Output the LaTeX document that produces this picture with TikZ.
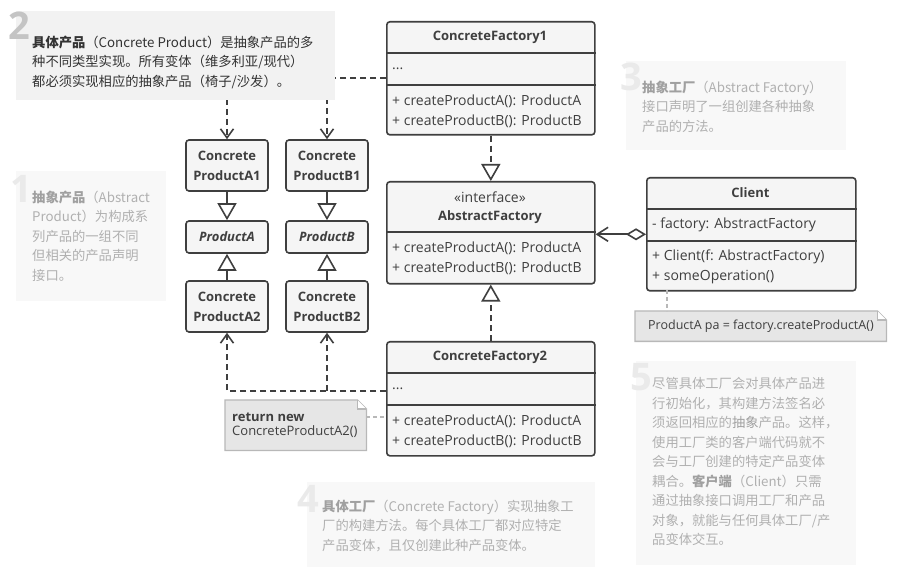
\documentclass[tikz,border=0pt]{standalone}
\usepackage{fontspec}
\setmainfont{Open Sans}
\newfontfamily\cjk{Noto Sans CJK SC}
\usetikzlibrary{positioning,calc,arrows.meta}

\definecolor{ink}{HTML}{3F3F3F}
\definecolor{boxfill}{HTML}{F5F5F5}
\definecolor{notefill}{HTML}{E6E6E6}
\definecolor{noteline}{HTML}{B8B8B8}
\definecolor{tipfill}{HTML}{F2F2F2}
\definecolor{tipnum}{HTML}{C4C4C4}
\definecolor{tiptext}{HTML}{333333}
\definecolor{fadefill}{HTML}{F8F8F8}
\definecolor{fadenum}{HTML}{EAEAEA}
\definecolor{fadetext}{HTML}{B0B0B0}
\definecolor{fadebold}{HTML}{A0A0A0}

\newcommand{\boxfont}{\fontsize{13}{20}\selectfont}
\newcommand{\memberfont}{\fontsize{14}{20}\selectfont}
\newcommand{\tipfont}{\cjk\fontsize{13.3}{19.5}\selectfont}

\begin{document}
\begin{tikzpicture}[x=1pt,y=-1pt,
    class box/.style={draw=ink,fill=boxfill,line width=1.6pt,rounded corners=3pt,
                      anchor=north west,minimum width=208pt,inner sep=0pt},
    prod box/.style={draw=ink,fill=boxfill,line width=1.6pt,rounded corners=3pt,
                     minimum width=82pt,minimum height=51pt,inner sep=0pt,
                     align=center,text=ink,font=\boxfont\bfseries},
    class title/.style={text=ink,font=\boxfont\bfseries,inner sep=0pt},
    member/.style={text=ink,font=\memberfont,anchor=west,align=left,inner sep=0pt},
    divider/.style={draw=ink,line width=1.6pt},
    wire/.style={draw=ink,line width=1.6pt},
    inherit line/.style={wire,-{Triangle[open,length=17pt,width=19pt,line width=1.6pt]}},
    realize line/.style={inherit line,dash pattern=on 6pt off 4pt},
    depend line/.style={wire,dash pattern=on 6pt off 4pt,
                        -{Straight Barb[length=9pt,width=13pt,line width=1.6pt]}},
    aggr line/.style={wire,{Diamond[open,length=20pt,width=12pt,line width=1.6pt]}-{Straight Barb[length=11pt,width=14pt,line width=1.6pt]}},
    note box/.style={anchor=north west,inner sep=0pt},
    note edge/.style={draw=noteline,line width=1.3pt},
    note link/.style={draw=noteline,line width=1.3pt,dash pattern=on 4pt off 3pt},
    tip box/.style={fill=tipfill,anchor=north west,inner sep=0pt},
    fade box/.style={fill=fadefill,anchor=north west,inner sep=0pt},
    tip num/.style={text=tipnum,font=\fontsize{38}{38}\selectfont\bfseries,
                    anchor=north west,inner sep=0pt},
    fade num/.style={tip num,text=fadenum},
    tip text/.style={text=tiptext,font=\tipfont,anchor=north west,align=left,inner sep=0pt},
    fade text/.style={tip text,text=fadetext}
  ]
  \useasboundingbox (0,0) rectangle (897,569);
  \fill[white] (0,0) rectangle (897,569);

  % factories
  \node[class box, minimum height=113pt] (cf1) at (386,21) {};
  \node[class title] (cf1name) at (490,37) {ConcreteFactory1};
  \draw[divider] ([yshift=-32pt]cf1.north west) -- ([yshift=-32pt]cf1.north east);
  \node[member] (cf1attr) at (392,69) {...};
  \draw[divider] ([yshift=-64pt]cf1.north west) -- ([yshift=-64pt]cf1.north east);
  \node[member] (cf1ops) at (392,111) {+ createProductA(): ProductA\\+ createProductB(): ProductB};

  \node[class box, minimum height=102pt] (af) at (386,181) {};
  \node[class title, font=\memberfont] (afstereo) at (490,197) {«interface»};
  \node[class title] (afname) at (490,217) {AbstractFactory};
  \draw[divider] ([yshift=-51pt]af.north west) -- ([yshift=-51pt]af.north east);
  \node[member] (afops) at (392,258) {+ createProductA(): ProductA\\+ createProductB(): ProductB};

  \node[class box, minimum height=114pt] (cf2) at (386,341) {};
  \node[class title] (cf2name) at (490,357) {ConcreteFactory2};
  \draw[divider] ([yshift=-32pt]cf2.north west) -- ([yshift=-32pt]cf2.north east);
  \node[member] (cf2attr) at (392,389) {...};
  \draw[divider] ([yshift=-64pt]cf2.north west) -- ([yshift=-64pt]cf2.north east);
  \node[member] (cf2ops) at (392,431) {+ createProductA(): ProductA\\+ createProductB(): ProductB};

  % client
  \node[class box, minimum width=209pt, minimum height=113pt] (client) at (646,177) {};
  \node[class title] (clientname) at (750.5,193) {Client};
  \draw[divider] ([yshift=-32pt]client.north west) -- ([yshift=-32pt]client.north east);
  \node[member] (clientattr) at (652,225) {- factory: AbstractFactory};
  \draw[divider] ([yshift=-64pt]client.north west) -- ([yshift=-64pt]client.north east);
  \node[member] (clientops) at (652,266.5) {+ Client(f: AbstractFactory)\\+ someOperation()};

  % products
  \node[prod box] (a1) at (227,165.5) {Concrete\\ProductA1};
  \node[prod box] (b1) at (327,165.5) {Concrete\\ProductB1};
  \node[prod box, minimum height=32pt, font=\boxfont\bfseries\itshape] (pa) at (227,237) {ProductA};
  \node[prod box, minimum height=32pt, font=\boxfont\bfseries\itshape] (pb) at (327,237) {ProductB};
  \node[prod box] (a2) at (227,306.5) {Concrete\\ProductA2};
  \node[prod box] (b2) at (327,306.5) {Concrete\\ProductB2};

  % relations
  \draw[inherit line] (a1) -- (pa);
  \draw[inherit line] (b1) -- (pb);
  \draw[inherit line] (a2) -- (pa);
  \draw[inherit line] (b2) -- (pb);
  \draw[realize line] (cf1) -- (af);
  \draw[realize line] (cf2) -- (af);
  \draw[aggr line] (client.west) -- (client.west -| af.east);

  \coordinate (cf1port) at (386,78);
  \coordinate (cf2port) at (386,391);
  \draw[depend line] (cf1port) -| (a1);
  \draw[depend line] (cf1port -| b1) -- (b1);
  \draw[depend line] (cf2port) -| (a2);
  \draw[depend line] (cf2port -| b2) -- (b2);

  % notes
  \node[note box, minimum width=251pt, minimum height=30pt] (callnote) at (635,311) {};
  \filldraw[note edge, fill=notefill] (callnote.north west) -- ([xshift=-9pt]callnote.north east)
    -- ([yshift=-9pt]callnote.north east) -- (callnote.south east) -- (callnote.south west) -- cycle;
  \draw[note edge, fill=white] ([xshift=-9pt]callnote.north east) -- ([xshift=-9pt,yshift=-9pt]callnote.north east)
    -- ([yshift=-9pt]callnote.north east);
  \node[member, font=\fontsize{12.5}{14}\selectfont] (calltext) at (648,326) {ProductA pa = factory.createProductA()};
  \coordinate (clientport) at (667,290);
  \draw[note link] (clientport) -- (clientport |- callnote.north);

  \node[note box, minimum width=141pt, minimum height=50pt] (retnote) at (225,400) {};
  \filldraw[note edge, fill=notefill] (retnote.north west) -- ([xshift=-9pt]retnote.north east)
    -- ([yshift=-9pt]retnote.north east) -- (retnote.south east) -- (retnote.south west) -- cycle;
  \draw[note edge, fill=white] ([xshift=-9pt]retnote.north east) -- ([xshift=-9pt,yshift=-9pt]retnote.north east)
    -- ([yshift=-9pt]retnote.north east);
  \node[member, font=\fontsize{13}{14}\selectfont] (rettext) at (232,425.5) {\textbf{return new}\\ConcreteProductA2()};
  \coordinate (cf2noteport) at (386,417);
  \draw[note link] (retnote.east |- cf2noteport) -- (cf2noteport);

  % annotations
  \node[tip box, minimum width=319pt, minimum height=89pt] (tip2) at (16,11) {};
  \node[tip num] (num2) at (8,12) {2};
  \node[tip text] (txt2) at (32,35.5) {\textbf{具体产品}（Concrete Product）是抽象产品的多\\
    种不同类型实现。所有变体（维多利亚/现代）\\都必须实现相应的抽象产品（椅子/沙发）。};

  \node[fade box, minimum width=150pt, minimum height=130pt] (tip1) at (16,171) {};
  \node[fade num] (num1) at (10,175) {1};
  \node[fade text] (txt1) at (32,190.5) {\textcolor{fadebold}{\textbf{抽象产品}}（Abstract\\
    Product）为构成系\\列产品的一组不同\\但相关的产品声明\\接口。};

  \node[fade box, minimum width=220pt, minimum height=89pt] (tip3) at (626,61) {};
  \node[fade num] (num3) at (620,63) {3};
  \node[fade text] (txt3) at (642,80.5) {\textcolor{fadebold}{\textbf{抽象工厂}}（Abstract Factory）\\
    接口声明了一组创建各种抽象\\产品的方法。};

  \node[fade box, minimum width=288pt, minimum height=85pt] (tip4) at (307,482) {};
  \node[fade num] (num4) at (297,485) {4};
  \node[fade text] (txt4) at (322,499.5) {\textcolor{fadebold}{\textbf{具体工厂}}（Concrete Factory）实现抽象工\\
    厂的构建方法。每个具体工厂都对应特定\\产品变体，且仅创建此种产品变体。};

  \node[fade box, minimum width=220pt, minimum height=204pt] (tip5) at (636,361) {};
  \node[fade num] (num5) at (630,363) {5};
  \node[fade text] (txt5) at (652,377.5) {尽管具体工厂会对具体产品进\\行初始化，其构建方法签名必\\
    须返回相应的\textcolor{fadebold}{抽象}产品。这样，\\使用工厂类的客户端代码就不\\
    会与工厂创建的特定产品变体\\耦合。\textcolor{fadebold}{\textbf{客户端}}（Client）只需\\
    通过抽象接口调用工厂和产品\\对象，就能与任何具体工厂/产\\品变体交互。};
\end{tikzpicture}
\end{document}
